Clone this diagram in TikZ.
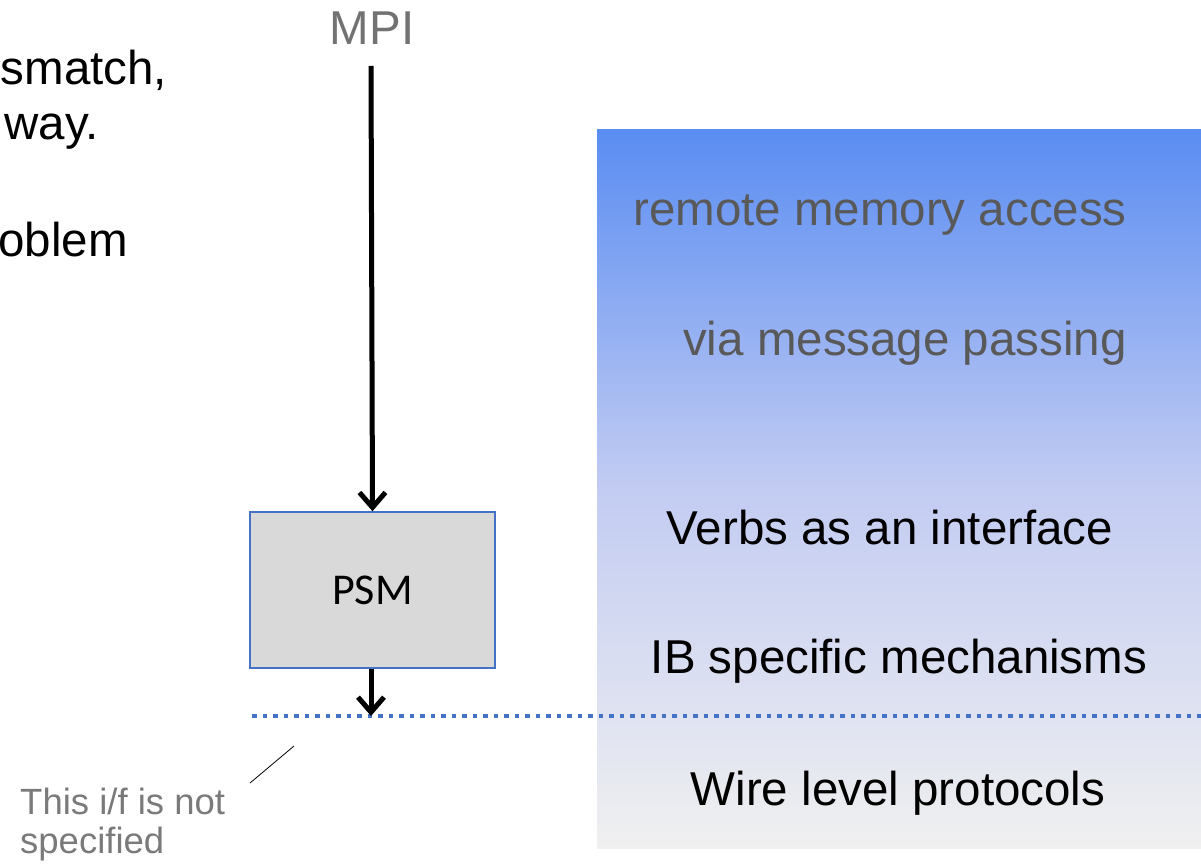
\documentclass[tikz,border=0pt]{standalone}
\usepackage{fontspec}
\setmainfont{Liberation Sans}
\newfontfamily\boxfont{Carlito}
\usetikzlibrary{arrows.meta,positioning}
\usepackage{xcolor}
\definecolor{stackTop}{HTML}{5A8DF2}
\definecolor{stackMid}{HTML}{C3CCF2}
\definecolor{stackBottom}{HTML}{F0F0F0}
\definecolor{ifBlue}{HTML}{4472C4}
\definecolor{psmGray}{HTML}{D9D9D9}
\definecolor{labelGray}{HTML}{595959}
\definecolor{noteGray}{HTML}{7A7A7A}
\newcommand\bigfont{\fontsize{47.5}{56}\selectfont}

\begin{document}
\begin{tikzpicture}[x=1pt,y=-1pt,>={Straight Barb[length=15pt,width=26pt]}]
\useasboundingbox (0,0) rectangle (1201,866);
% layer stack
\fill[top color=stackTop,bottom color=stackBottom,middle color=stackMid] (597,130) rectangle (1201,848);
\node[anchor=base,inner sep=0,font=\bigfont,text=labelGray] (rma) at (880,226) {remote memory access};
\node[anchor=base,inner sep=0,font=\bigfont,text=labelGray] (msg) at (905,355) {via message passing};
\node[anchor=base,inner sep=0,font=\bigfont] (verbs) at (890,544) {Verbs as an interface};
\node[anchor=base,inner sep=0,font=\bigfont] (ibmech) at (899,673) {IB specific mechanisms};
\node[anchor=base,inner sep=0,font=\bigfont] (wire) at (898,805) {Wire level protocols};
% cut-off text on the left
\node[anchor=base west,inner sep=0,font=\bigfont] (lefta) at (0.5,85) {smatch,};
\node[anchor=base east,inner sep=0,font=\bigfont] (leftb) at (99,140) {way.};
\node[anchor=base east,inner sep=0,font=\bigfont] (leftc) at (128,257) {oblem};
% MPI down to PSM
\node[anchor=base,inner sep=0,font=\bigfont,text=labelGray!85!white] (mpi) at (372,45) {MPI};
\coordinate (mpiend) at (371,66);
\node[draw=ifBlue,line width=1.5pt,fill=psmGray,minimum width=245pt,minimum height=156pt,inner sep=0,font=\boxfont\fontsize{44}{50}\selectfont] (psm) at (372.5,590) {PSM};
\draw[->,line width=5pt] (mpiend) -- (psm.north);
% unspecified interface
\coordinate (ifl) at (252,716);
\coordinate (ifr) at (1201,716);
\coordinate (ifmid) at (371,716);
\draw[ifBlue,line width=4.5pt,dash pattern=on 4.5pt off 6pt] (ifl) -- (ifr);
\draw[->,line width=5pt] (psm.south -| ifmid) -- (ifmid);
\node[anchor=base west,inner sep=0,align=left,text=noteGray,font=\fontsize{36.5}{39}\selectfont] (note) at (20,853) {This i/f is not\\specified};
\coordinate (notea) at (250,783);
\coordinate (noteb) at (294,746);
\draw[line width=.8pt] (notea) -- (noteb);
\end{tikzpicture}
\end{document}
